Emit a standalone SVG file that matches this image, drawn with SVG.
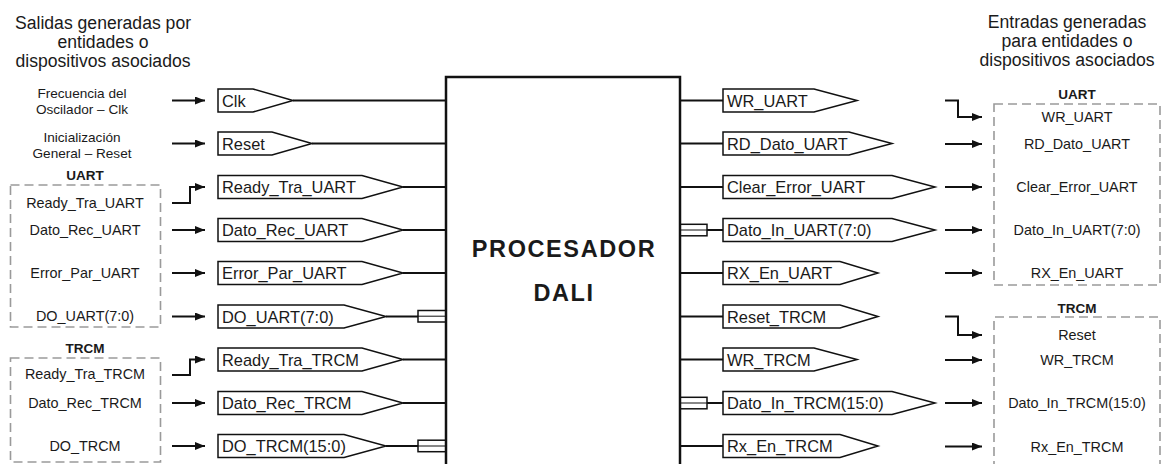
<svg xmlns="http://www.w3.org/2000/svg" width="1162" height="464" viewBox="0 0 1162 464">
<style>
text{font-family:"Liberation Sans",Arial,sans-serif;fill:#1a1a1a}
.hd{font-size:17.6px;text-anchor:middle}
.sm{font-size:13.6px;text-anchor:middle}
.lb{font-size:14.4px;text-anchor:middle}
.gt{font-size:13.5px;font-weight:bold;text-anchor:middle}
.pt{font-size:16.4px}
.pn{fill:#fff;stroke:#111;stroke-width:1.5}
.ln{fill:none;stroke:#111;stroke-width:2}
.ar{fill:none;stroke:#111;stroke-width:2;marker-end:url(#ah)}
.ds{fill:none;stroke:#9a9a9a;stroke-width:1.6;stroke-dasharray:9 5}
.bus{fill:#fff;stroke:#111;stroke-width:1.5}
.ttl{font-size:23.5px;font-weight:bold;text-anchor:middle;letter-spacing:1.6px}
</style>
<defs>
<marker id="ah" viewBox="0 0 10 8" refX="10" refY="4" markerWidth="10" markerHeight="8" markerUnits="userSpaceOnUse" orient="auto"><path d="M0,0 L10,4 L0,8 z" fill="#111"/></marker>
</defs>

<g id="headers">
<text class="hd" x="103" y="28.5">Salidas generadas por</text>
<text class="hd" x="103" y="47.5">entidades o</text>
<text class="hd" x="103" y="66.5">dispositivos asociados</text>
<text class="hd" x="1067" y="27.5">Entradas generadas</text>
<text class="hd" x="1067" y="46.5">para entidades o</text>
<text class="hd" x="1067" y="65.5">dispositivos asociados</text>
</g>

<g id="src-clk"><text class="sm" x="82" y="97.5">Frecuencia del</text><text class="sm" x="82" y="114">Oscilador – Clk</text></g>
<g id="src-reset"><text class="sm" x="82" y="141.5">Inicialización</text><text class="sm" x="82" y="157.5">General – Reset</text></g>

<g id="left-uart">
<rect class="ds" x="10.5" y="185" width="150" height="142"/>
<text class="gt" x="85" y="180">UART</text>
<text class="lb" x="85" y="208">Ready_Tra_UART</text>
<text class="lb" x="85" y="235">Dato_Rec_UART</text>
<text class="lb" x="85" y="278">Error_Par_UART</text>
<text class="lb" x="85" y="321">DO_UART(7:0)</text>
</g>
<g id="left-trcm">
<rect class="ds" x="10.5" y="358" width="150" height="104"/>
<text class="gt" x="85" y="353">TRCM</text>
<text class="lb" x="85" y="379">Ready_Tra_TRCM</text>
<text class="lb" x="85" y="408">Dato_Rec_TRCM</text>
<text class="lb" x="85" y="451">DO_TRCM</text>
</g>

<g id="right-uart">
<rect class="ds" x="994" y="104" width="166" height="181"/>
<text class="gt" x="1077" y="99">UART</text>
<text class="lb" x="1077" y="122">WR_UART</text>
<text class="lb" x="1077" y="149">RD_Dato_UART</text>
<text class="lb" x="1077" y="192">Clear_Error_UART</text>
<text class="lb" x="1077" y="235">Dato_In_UART(7:0)</text>
<text class="lb" x="1077" y="278">RX_En_UART</text>
</g>
<g id="right-trcm">
<path class="ds" d="M994,470 V317 H1160 V470"/>
<text class="gt" x="1077" y="313">TRCM</text>
<text class="lb" x="1077" y="340">Reset</text>
<text class="lb" x="1077" y="365">WR_TRCM</text>
<text class="lb" x="1077" y="408">Dato_In_TRCM(15:0)</text>
<text class="lb" x="1077" y="451.5">Rx_En_TRCM</text>
</g>

<g id="connectors">
<!-- left arrows -->
<path class="ar" d="M172,100.5 H205"/>
<path class="ar" d="M172,143.5 H205"/>
<path class="ar" d="M172,203 H190 V187 H205"/>
<path class="ar" d="M172,230 H205"/>
<path class="ar" d="M172,273 H205"/>
<path class="ar" d="M172,316.5 H205"/>
<path class="ar" d="M172,375 H190 V359.5 H205"/>
<path class="ar" d="M172,403 H205"/>
<path class="ar" d="M172,446 H205"/>
<!-- left lines to processor -->
<path class="ln" d="M293,100.5 H446"/>
<path class="ln" d="M312,143.5 H446"/>
<path class="ln" d="M403,187 H446"/>
<path class="ln" d="M403,230 H446"/>
<path class="ln" d="M403,273 H446"/>
<path class="ln" d="M386,316.5 H446"/>
<path class="ln" d="M403,359.5 H446"/>
<path class="ln" d="M403,403 H446"/>
<path class="ln" d="M386,446 H446"/>
<!-- right lines from processor -->
<path class="ln" d="M680,100.5 H723"/>
<path class="ln" d="M680,143.5 H723"/>
<path class="ln" d="M680,187 H723"/>
<path class="ln" d="M680,230 H723"/>
<path class="ln" d="M680,273 H723"/>
<path class="ln" d="M680,316.5 H723"/>
<path class="ln" d="M680,359.5 H723"/>
<path class="ln" d="M680,403 H723"/>
<path class="ln" d="M680,446 H723"/>
<!-- right arrows -->
<path class="ar" d="M945,100.5 H958 V117 H982"/>
<path class="ar" d="M945,144 H982"/>
<path class="ar" d="M945,187 H982"/>
<path class="ar" d="M945,230 H982"/>
<path class="ar" d="M945,273 H982"/>
<path class="ar" d="M945,316.5 H958 V335 H982"/>
<path class="ar" d="M945,360 H982"/>
<path class="ar" d="M945,403 H982"/>
<path class="ar" d="M945,446.5 H982"/>
<!-- bus symbols -->
<rect class="bus" x="418" y="310.5" width="28" height="11.5"/><path d="M418,316.2 H446" stroke="#111" stroke-width="1"/>
<rect class="bus" x="418" y="440.2" width="28" height="11.5"/><path d="M418,446 H446" stroke="#111" stroke-width="1"/>
<rect class="bus" x="680" y="224.3" width="27" height="11.5"/><path d="M680,230 H707" stroke="#111" stroke-width="1"/>
<rect class="bus" x="680" y="397.3" width="27" height="11.5"/><path d="M680,403 H707" stroke="#111" stroke-width="1"/>
</g>

<g id="processor">
<rect x="446" y="77" width="234" height="400" fill="#fff" stroke="#111" stroke-width="2.5"/>
<text class="ttl" x="564" y="256.5">PROCESADOR</text>
<text class="ttl" x="564" y="301">DALI</text>
</g>

<g id="in-clk"><path class="pn" d="M218,89 H253 L293,100.5 L253,112 H218 Z"/><text class="pt" x="222" y="106.5">Clk</text></g>
<g id="in-reset"><path class="pn" d="M218,132 H272 L312,143.5 L272,155 H218 Z"/><text class="pt" x="222" y="149.5">Reset</text></g>
<g id="in-ready-uart"><path class="pn" d="M218,175.5 H362 L403,187 L362,198.5 H218 Z"/><text class="pt" x="222" y="193">Ready_Tra_UART</text></g>
<g id="in-datorec-uart"><path class="pn" d="M218,218.5 H362 L403,230 L362,241.5 H218 Z"/><text class="pt" x="222" y="236">Dato_Rec_UART</text></g>
<g id="in-errorpar-uart"><path class="pn" d="M218,261.5 H362 L403,273 L362,284.5 H218 Z"/><text class="pt" x="222" y="279">Error_Par_UART</text></g>
<g id="in-do-uart"><path class="pn" d="M218,305 H344 L386,316.5 L344,328 H218 Z"/><text class="pt" x="222" y="322.5">DO_UART(7:0)</text></g>
<g id="in-ready-trcm"><path class="pn" d="M218,348 H362 L403,359.5 L362,371 H218 Z"/><text class="pt" x="222" y="365.5">Ready_Tra_TRCM</text></g>
<g id="in-datorec-trcm"><path class="pn" d="M218,391.5 H362 L403,403 L362,414.5 H218 Z"/><text class="pt" x="222" y="409">Dato_Rec_TRCM</text></g>
<g id="in-do-trcm"><path class="pn" d="M218,434.5 H344 L386,446 L344,457.5 H218 Z"/><text class="pt" x="222" y="452">DO_TRCM(15:0)</text></g>

<g id="out-wr-uart"><path class="pn" d="M723,89 H814 L857,100.5 L814,112 H723 Z"/><text class="pt" x="727" y="106.5">WR_UART</text></g>
<g id="out-rd-uart"><path class="pn" d="M723,132 H849 L892,143.5 L849,155 H723 Z"/><text class="pt" x="727" y="149.5">RD_Dato_UART</text></g>
<g id="out-clear-uart"><path class="pn" d="M723,175.5 H892 L935,187 L892,198.5 H723 Z"/><text class="pt" x="727" y="193">Clear_Error_UART</text></g>
<g id="out-datoin-uart"><path class="pn" d="M723,218.5 H892 L935,230 L892,241.5 H723 Z"/><text class="pt" x="727" y="236">Dato_In_UART(7:0)</text></g>
<g id="out-rxen-uart"><path class="pn" d="M723,261.5 H840 L878,273 L840,284.5 H723 Z"/><text class="pt" x="727" y="279">RX_En_UART</text></g>
<g id="out-reset-trcm"><path class="pn" d="M723,305 H840 L878,316.5 L840,328 H723 Z"/><text class="pt" x="727" y="322.5">Reset_TRCM</text></g>
<g id="out-wr-trcm"><path class="pn" d="M723,348 H814 L857,359.5 L814,371 H723 Z"/><text class="pt" x="727" y="365.5">WR_TRCM</text></g>
<g id="out-datoin-trcm"><path class="pn" d="M723,391.5 H892 L935,403 L892,414.5 H723 Z"/><text class="pt" x="727" y="409">Dato_In_TRCM(15:0)</text></g>
<g id="out-rxen-trcm"><path class="pn" d="M723,434.5 H840 L878,446 L840,457.5 H723 Z"/><text class="pt" x="727" y="452">Rx_En_TRCM</text></g>
</svg>
